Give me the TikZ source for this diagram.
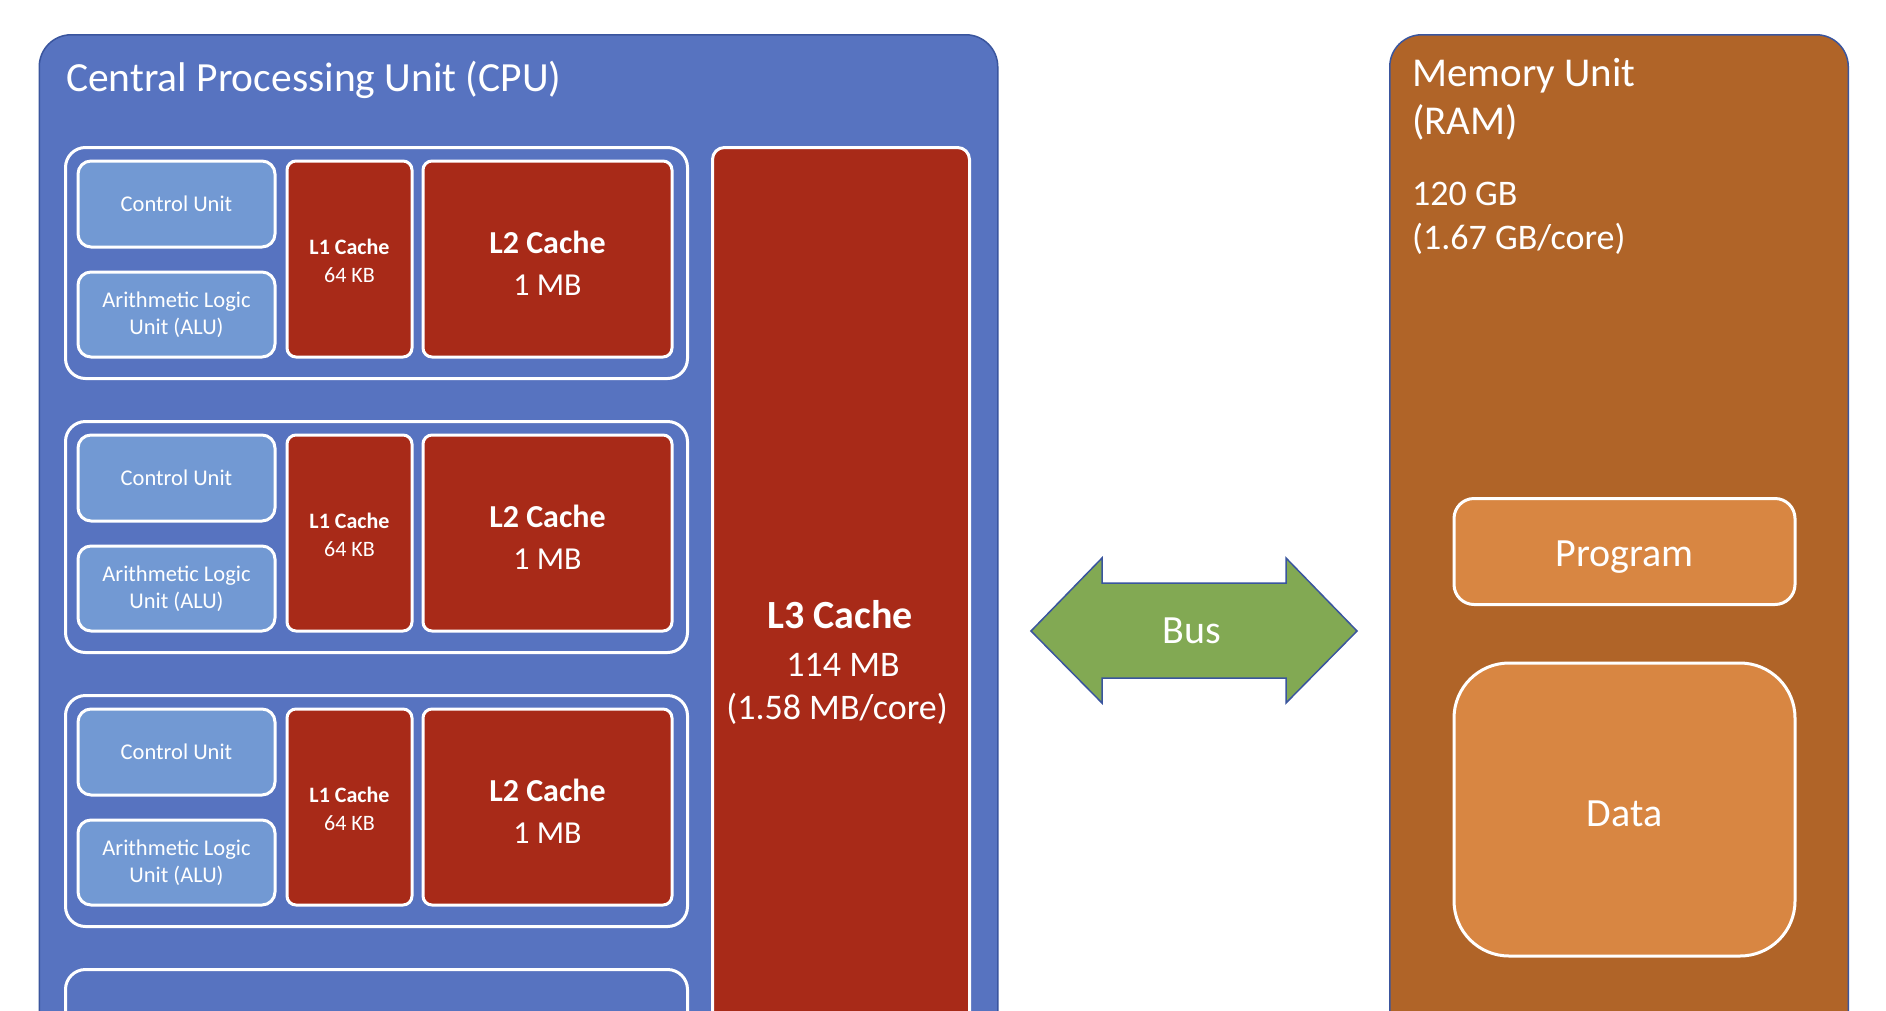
\documentclass[tikz,border=0pt]{standalone}
\usepackage{fontspec}
\setmainfont{Carlito}
\definecolor{cpublue}{HTML}{5773C0}
\definecolor{cublue}{HTML}{7299D3}
\definecolor{cachered}{HTML}{A82A18}
\definecolor{membrown}{HTML}{B06428}
\definecolor{memorange}{HTML}{D88642}
\definecolor{busgreen}{HTML}{82A953}
\definecolor{edgeblue}{HTML}{3A559E}
\begin{document}
\begin{tikzpicture}[x=1pt,y=-1pt,
  every node/.style={text=white, inner sep=0pt, align=center},
  outerbox/.style={draw=edgeblue, line width=1.5pt, anchor=north west, rounded corners=32pt},
  grp/.style={draw=white, line width=3pt, rounded corners=20pt, minimum width=622pt, minimum height=231pt, anchor=north west},
  cubox/.style={draw=white, line width=3pt, fill=cublue, rounded corners=13pt, minimum width=197pt, minimum height=86pt, font=\fontsize{22.5}{26.5}\selectfont},
  cachebox/.style={draw=white, line width=3pt, fill=cachered, rounded corners=9pt, minimum height=196pt},
  membox/.style={draw=white, line width=3pt, fill=memorange, minimum width=341pt},
  big/.style={font=\fontsize{40}{48}\selectfont},
  mid/.style={font=\fontsize{36}{44}\selectfont},
]
\useasboundingbox (0,0) rectangle (1886,1010);
\clip (0,0) rectangle (1886,1010);
\fill[white] (0,0) rectangle (1886,1010);

% CPU
\node[outerbox, fill=cpublue, minimum width=958.5pt, minimum height=1060pt] (cpu) at (38.5,34) {};
\node[font=\fontsize{41.5}{48}\selectfont, anchor=base west] (cputitle) at (66,91) {Central Processing Unit (CPU)};

\foreach \i/\t in {1/146,2/420,3/694}{
  \node[grp] (g\i) at (64,\t) {};
  \node[cubox] (cu\i) at (176.5,{\t+58}) {Control Unit};
  \node[cubox, minimum height=85pt] (alu\i) at (176.5,{\t+168.5}) {Arithmetic Logic\\Unit (ALU)};
  \node[cachebox, minimum width=125pt] (la\i) at (349.5,{\t+113}) {};
  \node[font=\fontsize{22}{27.5}\selectfont, yshift=-2pt] (la\i t) at (la\i.center) {\textbf{L1 Cache}\\64 KB};
  \node[cachebox, minimum width=249pt] (lb\i) at (547.5,{\t+113}) {};
  \node[font=\fontsize{32}{42}\selectfont, yshift=-4pt] (lb\i t) at (lb\i.center) {\textbf{L2 Cache}\\1 MB};
}
\node[grp] (g4) at (64,968) {};

% L3
\node[cachebox, anchor=north west, minimum width=257pt, minimum height=950pt, rounded corners=12pt] (l3) at (711,146) {};
\node[big, anchor=base] (l3a) at (840,628) {\textbf{L3 Cache}};
\node[mid, anchor=base] (l3b) at (843,676.5) {114 MB};
\node[mid, anchor=base] (l3c) at (837,719.5) {(1.58 MB/core)};

% Bus
\fill[busgreen, draw=edgeblue, line width=1.5pt]
  (1031,631) -- (1102,558) -- (1102,583) -- (1286,583) -- (1286,558) -- (1357,631)
  -- (1286,703) -- (1286,678) -- (1102,678) -- (1102,703) -- cycle;
\node[big] (bus) at (1192,631) {Bus};

% Memory
\node[outerbox, fill=membrown, minimum width=458.5pt, minimum height=1060pt] (mem) at (1389,34) {};
\node[font=\fontsize{41}{48}\selectfont, anchor=base west] (memt1) at (1412,86) {Memory Unit};
\node[font=\fontsize{41}{48}\selectfont, anchor=base west] (memt2) at (1412,134) {(RAM)};
\node[mid, anchor=base west] (memt3) at (1412,205) {120 GB};
\node[mid, anchor=base west] (memt4) at (1412,249) {(1.67 GB/core)};
\node[membox, minimum height=106pt, rounded corners=20pt] (prog) at (1624.5,551.5) {};
\node[big, yshift=-6pt] (progt) at (prog.center) {Program};
\node[membox, minimum height=293pt, rounded corners=55pt] (data) at (1624.5,809.5) {};
\node[big, yshift=-4pt] (datat) at (data.center) {Data};
\end{tikzpicture}
\end{document}
